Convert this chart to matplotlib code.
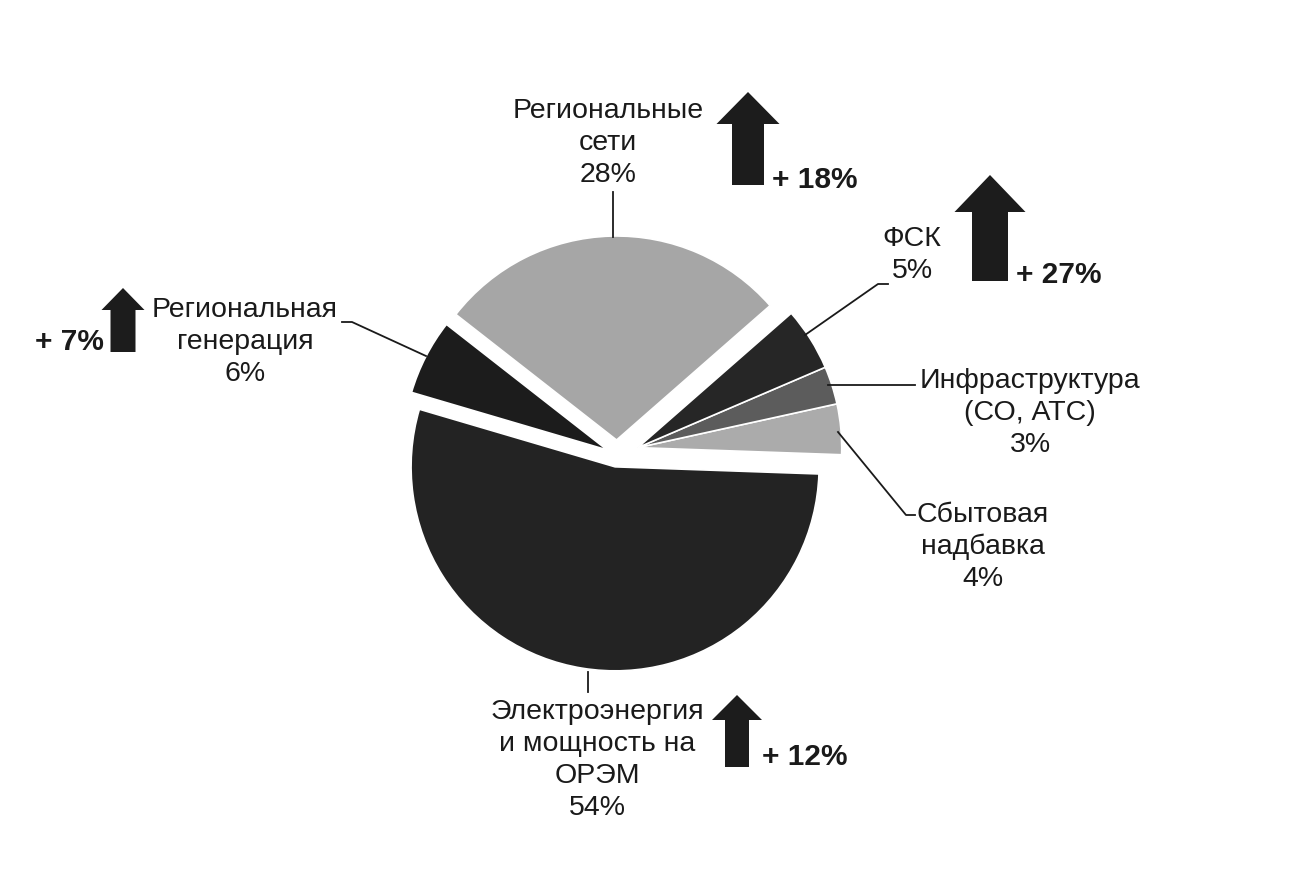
import math
import matplotlib
matplotlib.use("Agg")
import matplotlib.pyplot as plt

plt.rcParams['font.family'] = ['Liberation Sans', 'DejaVu Sans']

# ---- data ----
categories = ["Сбытовая\nнадбавка", "Инфраструктура\n(СО, АТС)", "ФСК",
              "Региональные\nсети", "Региональная\nгенерация",
              "Электроэнергия\nи мощность на\nОРЭМ"]
shares = [4, 3, 5, 28, 6, 54]
growth_labels = ["+ 18%", "+ 27%", "+ 7%", "+ 12%"]

colors = ["#ababab", "#5c5c5c", "#262626", "#a6a6a6", "#1c1c1c", "#232323"]
explode = [22, 22, 22, 15, 11, 12]   # offsets in pixel units

W, H = 1300, 882
fig = plt.figure(figsize=(W / 100, H / 100), dpi=100)
ax = fig.add_axes([0, 0, 1, 1])


def Y(y):
    return H - y


cx, cy = 617, Y(455)
start = -2
wedges, _ = ax.pie(shares, colors=colors, explode=explode, startangle=start,
                   counterclock=True, center=(cx, cy), radius=204,
                   wedgeprops=dict(edgecolor="white", linewidth=1.2))

# the three small right-hand slices are pulled out together (common apex)
w0, w2 = wedges[0], wedges[2]
mid = math.radians((w0.theta1 + w2.theta2) / 2)
common = (cx + 22 * math.cos(mid), cy + 22 * math.sin(mid))
for w in wedges[:3]:
    w.set_center(common)

ax.set_xlim(0, W)
ax.set_ylim(0, H)
ax.set_aspect('equal')
ax.axis('off')

fs = 20.5
lc = "#1a1a1a"
lw = 1.3

def lab(x, y, text):
    ax.text(x, Y(y), text, ha='center', va='center', fontsize=fs,
            color="#1a1a1a", linespacing=1.29)

# labels with percentages
lab(608, 143, f"{categories[3]}\n{shares[3]}%")
lab(912, 255, f"{categories[2]}\n{shares[2]}%")
lab(1030, 413, f"{categories[1]}\n{shares[1]}%")
lab(983, 547, f"{categories[0]}\n{shares[0]}%")
lab(245, 342, f"{categories[4]}\n{shares[4]}%")
lab(597, 760, f"{categories[5]}\n{shares[5]}%")

# leader lines
ax.plot([613, 613], [Y(192), Y(237)], color=lc, lw=lw)
ax.plot([805, 878, 888], [Y(335), Y(284), Y(284)], color=lc, lw=lw)
ax.plot([828, 915], [Y(385), Y(385)], color=lc, lw=lw)
ax.plot([838, 906, 915], [Y(432), Y(515), Y(515)], color=lc, lw=lw)
ax.plot([426, 352, 342], [Y(356), Y(322), Y(322)], color=lc, lw=lw)
ax.plot([588, 588], [Y(672), Y(692)], color=lc, lw=lw)

# growth arrows
def up_arrow(xc, ybot, ytop, shaft, head_w, head_l):
    ax.arrow(xc, Y(ybot), 0, ybot - ytop, width=shaft, head_width=head_w,
             head_length=head_l, length_includes_head=True,
             color="#1c1c1c", linewidth=0)

up_arrow(748, 185, 92, 32, 63, 32)
up_arrow(990, 281, 175, 36, 71, 37)
up_arrow(123, 352, 288, 25, 43, 22)
up_arrow(737, 767, 695, 24, 50, 25)

gfs = 21.5
def glab(x, y, text):
    ax.text(x, Y(y), text, ha='left', va='center', fontsize=gfs,
            fontweight='bold', color="#1a1a1a")

glab(772, 180, growth_labels[0])
glab(1016, 275, growth_labels[1])
ax.text(104, Y(342), growth_labels[2], ha='right', va='center', fontsize=gfs,
        fontweight='bold', color="#1a1a1a")
glab(762, 757, growth_labels[3])

fig.savefig("out.png", dpi=100, facecolor="white")
